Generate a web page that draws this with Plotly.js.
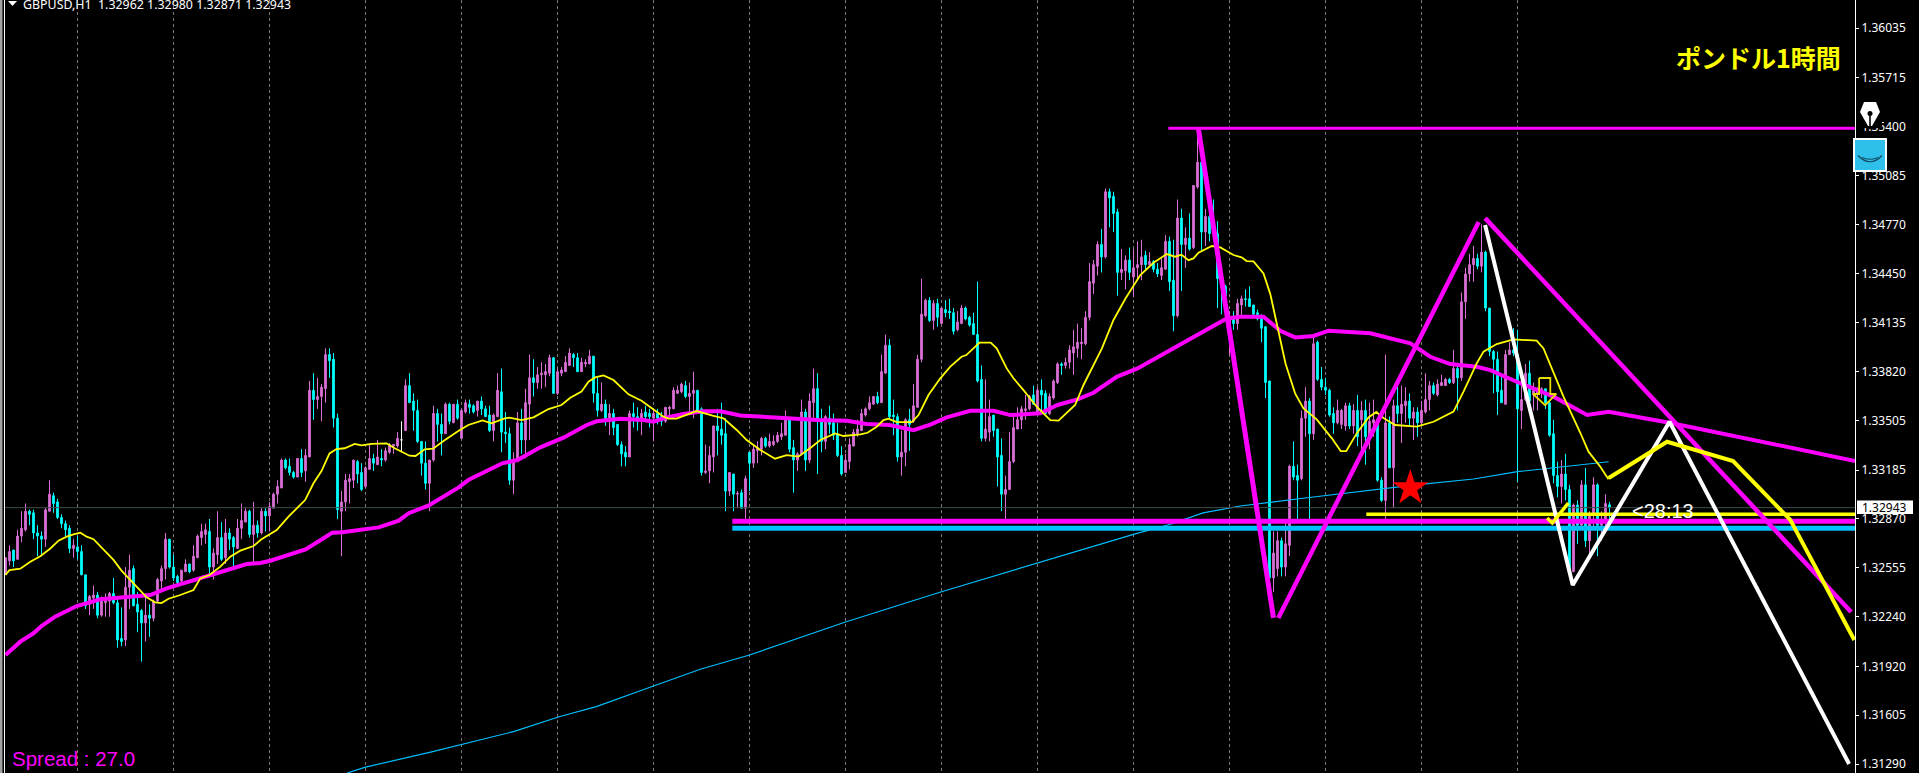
<!DOCTYPE html>
<html><head><meta charset="utf-8">
<script src="https://cdn.plot.ly/plotly-3.0.1.min.js"></script>
<style>html,body{margin:0;padding:0;background:#000;overflow:hidden}#c{width:1919px;height:773px}</style>
</head><body><div id="c"></div>
<script>
// All candle and line values are in pips above 1.30000 (296 = 1.32960).
const opens=[252,260,267,261,276,280,292,291,278,276,274,292,302,298,288,284,281,268,269,266,
251,232,236,238,225,233,234,239,233,210,209,243,255,232,228,220,225,223,234,247,
255,274,256,250,247,253,258,254,262,275,277,279,256,264,275,262,278,275,268,281,
285,292,277,283,278,292,289,294,303,307,325,321,317,314,326,318,327,370,364,366,
371,393,390,352,292,298,311,312,324,317,308,319,326,322,326,325,330,334,334,338,
344,373,363,357,337,323,310,325,355,348,342,361,349,361,339,356,361,360,357,363,
358,354,344,353,369,343,342,312,324,349,338,361,378,375,380,380,381,391,368,381,
382,386,393,391,382,387,387,392,368,357,361,350,355,348,335,330,327,355,353,350,
356,355,352,355,353,350,358,358,368,369,373,366,368,370,358,317,318,327,347,345,
342,305,316,303,304,294,330,323,331,332,339,334,335,337,340,341,351,333,325,329,
356,325,362,371,351,337,352,349,342,328,317,324,334,342,344,354,358,361,366,362,
381,399,354,353,327,330,351,350,359,390,418,428,415,426,413,422,421,420,409,413,
423,417,413,406,377,339,343,354,345,328,303,306,324,345,351,357,358,367,356,370,
368,355,365,375,387,386,388,394,397,400,400,417,439,450,464,456,498,495,485,446,
447,454,443,449,451,457,451,453,448,444,448,466,441,418,481,464,468,462,501,517,
472,482,477,471,443,437,405,416,413,425,429,429,425,420,417,411,376,249,255,273,
256,270,321,315,313,352,363,342,401,377,372,370,355,349,348,347,360,347,357,351,
357,340,349,351,312,299,349,320,360,355,360,363,352,356,349,356,364,373,367,373,
373,377,375,384,378,427,445,451,455,450,459,423,395,390,370,361,393,396,393,357,
364,381,367,368,368,371,362,342,315,308,316,306,253,296,283,309,273,290,309,283,287,296.2];
const highs=[262,270,267,280,292,297,293,293,283,279,294,312,304,300,290,286,283,274,276,270,
251,238,244,240,237,239,240,249,236,230,256,264,257,240,229,239,232,235,249,257,
278,274,264,251,254,261,258,270,277,284,284,287,268,292,285,287,281,276,287,297,
294,293,298,286,294,294,298,304,312,326,326,326,318,326,332,332,376,381,378,374,
397,397,394,355,305,316,316,325,325,323,321,335,329,338,332,333,336,335,343,350,
377,381,368,364,337,337,325,360,358,355,362,362,361,364,358,364,364,361,363,366,
360,360,355,381,384,356,346,330,356,358,371,393,390,385,388,387,393,391,384,385,
392,397,394,394,391,390,396,392,378,375,364,361,358,348,337,334,357,362,359,358,
360,358,358,358,356,359,360,372,373,375,376,375,382,370,359,335,334,347,358,362,
352,317,316,305,306,315,330,334,337,340,340,342,341,343,349,357,351,338,330,364,
358,368,384,381,358,354,360,355,349,334,329,339,345,351,358,359,366,366,369,393,
406,403,364,355,344,352,358,374,393,442,429,430,428,429,423,428,429,423,421,425,
424,418,420,440,386,377,364,354,345,339,315,343,355,359,360,367,367,373,372,377,
370,368,377,388,388,391,399,409,413,410,421,452,454,466,474,500,500,498,487,461,
457,462,461,466,467,460,459,454,452,455,470,469,467,493,487,475,484,502,538,522,
487,491,493,479,444,438,421,421,429,431,435,437,425,422,419,411,376,279,279,275,
286,322,337,322,357,372,365,405,402,385,378,371,359,364,358,362,362,361,367,363,
364,362,364,352,314,393,353,364,377,373,372,368,359,359,363,381,376,375,377,380,
378,378,396,387,433,449,458,463,458,477,460,423,396,395,379,396,401,410,409,384,
387,389,375,372,372,371,363,351,324,325,329,309,297,299,312,320,292,314,310,292,303,298];
const lows=[251,257,256,261,272,279,283,274,263,263,269,292,291,287,281,276,265,262,261,251,
229,225,229,223,224,224,224,232,204,205,205,229,231,214,195,208,211,221,233,241,
248,255,247,244,246,253,252,253,262,270,271,250,248,258,260,258,267,256,268,274,
285,275,258,275,277,279,279,294,297,307,319,315,313,314,314,311,327,351,358,350,
362,378,346,287,263,292,297,307,310,305,307,319,318,322,321,324,329,329,333,330,
344,362,344,336,315,306,292,324,337,328,342,348,349,351,339,355,355,355,353,354,
353,343,337,353,330,336,309,303,324,329,326,338,366,371,371,372,379,368,367,379,
382,386,385,382,382,385,387,362,353,356,347,341,341,334,321,321,327,346,344,341,
351,346,337,348,347,349,354,358,368,368,365,354,352,357,315,316,310,317,328,335,
292,302,292,294,294,285,305,320,323,328,333,333,334,336,338,341,330,304,318,328,
318,323,350,316,330,332,342,338,327,315,317,319,334,340,344,353,357,361,361,362,
381,351,341,324,315,321,331,349,359,388,417,414,409,411,413,417,416,406,408,413,
415,411,406,375,337,337,337,340,308,292,287,306,323,345,345,351,357,361,356,355,
354,354,364,374,380,384,384,380,391,390,399,415,432,444,446,455,475,472,431,441,
435,441,430,441,441,448,451,446,443,441,448,434,408,417,434,449,460,461,500,460,
463,466,467,423,419,417,393,409,409,417,424,424,418,415,401,365,245,240,250,250,
250,263,312,287,312,340,286,338,376,370,367,353,342,348,345,344,345,342,334,328,
322,332,340,311,298,287,320,294,349,336,349,347,338,340,347,355,357,367,366,373,
373,374,374,357,376,416,440,440,448,446,421,392,368,354,362,361,393,392,311,345,
363,357,357,357,365,358,340,310,301,297,299,253,253,271,281,269,262,282,263,273,282,287.1];
const closes=[262,266,260,276,281,292,290,278,276,274,293,303,297,288,284,280,268,270,266,251,
231,237,238,225,234,235,239,233,209,208,243,254,231,227,220,225,223,234,248,255,
274,256,249,246,254,258,253,263,276,279,280,256,265,275,261,278,274,269,281,286,
292,277,283,278,292,289,295,303,308,325,320,317,314,326,317,328,370,364,366,372,
393,389,352,293,298,312,313,325,316,306,320,326,323,327,325,331,335,335,339,338,
373,362,357,337,323,310,325,355,348,342,361,350,361,352,357,362,359,356,363,358,
353,344,354,370,343,342,312,325,349,338,362,378,375,380,381,382,391,368,382,383,
388,394,391,382,388,388,392,368,357,361,351,355,346,335,329,327,355,353,350,355,
353,353,355,352,350,359,359,370,370,374,366,368,370,357,317,318,328,347,344,341,
305,317,303,303.5,294,313,323,332,333,339,334,337,337,341,342,351,332,325,329,356,
325,363,371,351,337,353,348,341,328,316,325,335,343,345,355,358,362,366,362,382,
399,353,353,327,330,351,348,360,390,419,428,415,426,417,423,420,420,408,414,423,
416,412,406,376,339,345,353,344,327,303,306,324,346,351,358,358,366,361,370,367,
355,366,376,387,386,388,396,398,401,401,417,440,451,464,456,498,494,484,446,448,
454,446,449,451,456,451,453,448,445,449,466,440,418,481,464,468,461,502,517,472,
482,471,471,442,437,431,416,413,426,429,428.5,424,419,416,410,375,249,265,273,256,
271,321,314,312,352,363,342,400,377,372,370,354,349,357,357,360,347,357,340,357,
340,350,351,312,299,349,320,360,355,361,363,352,356,349,357,364,373,368,374,375,
377,375,384,378,427,445,451,455,450,459,423,395,390,369,362,393,396,394,358,364,
381,363,370,370,371,362,341,315,308,316,306,254,296,283,309,273,290,309,283,287,297,294.3];
const dojiBars=[99];

const yellowBars=[0,1,3.7,6.2,8.7,11.2,13.25,15.3,17.2,18.7,20.3,22,27,29,32,35.3,37.4,39,40.75,43.7,47,48.7,51,53.7,56.2,58.7,62,64,67.8,70.75,74.9,77,79,81,82.75,84.8,87.3,89,91.5,95.25,97.3,101,102.5,104.8,106.9,109.5,113.2,115.7,119.25,121.5,124.8,126,129,132,135.75,139,141.2,144,145.75,147.4,149.5,152,155.75,159,164.5,165.7,167.75,172.75,176.8,179.5,182.8,185.3,188.7,192.4,195.3,198.25,201.6,203.7,207.4,209.5,213.7,215.5,217.8,219.5,220.75,222.8,226.6,228.25,230.75,233.7,236.2,239,240.2,243.5,246.3,247.8,250.3,252,254.5,257.8,261.2,263.25,267.4,269.5,274.1,277,280,283.7,287,290.3,292.4,294,295.75,297,298.25,301.6,303.7,307,309,310.3,312,314.5,316.2,320,322.4,324.5,327.8,331.6,333.8,335.2,337.8,340.75,342.7,344.5,347.4,352.8,357,362,364.5,367.8,369.5,372.8,377,382.8,384.5,387,389.5,393.7,395.75,398.7,400.75];
const yellowVals=[251,254,255,259.5,263,268,273,275.6,277.3,278.2,275.6,274,260.6,253.7,245.5,236.5,233.3,232.8,235.6,238,241.2,248.7,250.9,256.3,262.7,266.6,269.6,273.9,279.9,288.5,299.2,310,317.9,329.3,332.1,332.6,335.4,334.5,335.4,335.8,332.6,327.8,327.6,331.9,332.3,337.3,343.7,347.6,350.6,348.7,351.9,352.3,350.8,352.5,357.9,360.5,365.2,369.1,375.5,378.3,379.6,376.6,367.4,363.3,353,351.7,351.7,356.6,353.6,351.9,344.4,337.9,331.5,325.9,328.2,327.2,333.6,337.9,342.2,340.5,341.6,342.6,346.5,350.8,351.7,349.5,349.5,354,366.9,377.7,385.2,391.6,392.7,400.7,400.7,397,384.1,377.7,370.1,359.4,350.8,350.4,360.5,373.4,397,415.3,429.2,444.3,452.2,457.8,456.1,457.4,453.9,455,458.7,463,462.1,457.2,455.7,453.3,453.1,445.3,432,387.3,368,358.3,351.2,339,330.8,330.8,342.2,352.5,356,352.1,347.6,346.5,349.7,356.2,369.1,387.3,394.9,399.8,402.8,402,397,380.9,365.9,342.6,330.4,320.7,312.6];
const magentaBars=[0,3.7,7,9,12.4,17.8,23.7,32,36.2,40.3,48.7,52.8,60.3,63.7,66.2,71,75,79.2,81.7,84.2,88.3,93.3,98.3,100.8,105.7,110,113.3,115.7,120,124.2,128,133.7,139.5,145.3,147.8,153.7,159.5,162,165.3,169.5,174.5,178.7,183.7,193.7,198,203,210.3,215.3,221,227,231.2,235.3,241.2,247,251.2,258.7,263,268,272,277.8,283,288,292,298,302,305.3,308.7,314.5,318.7,322.4,327,330.75,341.2,351.2,356.2,361.2,367.8,371.2,377.8,387,395.4,400.8,416,462.4];
const magentaVals=[199.3,207.9,213.3,218,224,230.9,235.2,236.9,238,242.3,249.2,252,258,258.6,260.1,264.4,267.4,274.1,278.2,278.4,279.9,281.6,285.9,290.7,295.6,302.5,307.4,312.1,317.5,322.9,325,333.2,339.4,347.6,350,351.7,350.8,349.7,352.5,354.7,356.4,356.4,353.8,352,351.4,350.8,350.4,348.2,347.6,344.3,347.8,352.5,356.8,356.8,354,355.1,360.5,364.1,368.4,378.7,384.1,391.2,397,405.6,411,416.3,417.4,417.4,408.4,404.1,405,408.4,406.7,400.2,391.6,386.9,385.2,383,375.5,365.9,354.1,356.2,349.1,324.4];
const blueBars=[85.4,90,106.8,116,127,138.4,147.7,158.7,173.7,186,210,234,258,282,291.2,299.4,308.7,318.7,325.4,352,367,378,400.8];
const blueVals=[123.2,127,137,142.7,149.9,159.5,166,176.3,190.1,199.3,220.6,240.1,258.8,277.1,283.6,290.9,295.4,298.8,300.7,308.9,312.8,317.5,323.9];

const zigDownBars=[298.2,317],  zigDownVals=[539.1,223.2];
const zigUpBars=[318.2,368.3],  zigUpVals=[223.2,478.5];
const zigFallBars=[369.9,461.4],zigFallVals=[481,227];
const whiteBars=[369.9,391.8,416,460.9], whiteVals=[476.5,244.4,349.7,129];
const yThickBars=[400.8,415.4,431.9,446.2,462.2], yThickVals=[313.4,336.8,324.4,286.4,209];
const checkBars=[385.4,386.7,390.7], checkVals=[287.6,284.4,297.3];
const arrowBars=[383.4,386.2,386.2,387.7,384.9,381.9,383.4,383.4];
const arrowVals=[377.9,377.9,367.6,367.6,360.4,367.6,367.6,377.9];
const starBar=[351.2], starVal=[307];

const topLine={start:290.7,val:538.9};
const pinkLevel={start:181.7,val:285.5};
const blueLevel={start:181.7,val:281};
const yellowLevel={start:340.2,val:290};
const lastPrice=1.32943;

const priceTicks=[1.36035,1.35715,1.35400,1.35085,1.34770,1.34450,1.34135,1.33820,1.33505,1.33185,1.32870,1.32555,1.32240,1.31920,1.31605,1.31290];
const gridBars=[18,42,66,90,114,138,162,186,210,234,258,282,306,330,354,378];

const P=v=>1.3+v/10000, PA=a=>a.map(P);
const XR=[-0.375,462.375], W=1851, H=773;
const px=x=>(x-4)/W, py=y=>1-y/H;
const bars=opens.map((_,i)=>i);
const mainIdx=bars.filter(i=>!dojiBars.includes(i));
const pick=(a,idx)=>idx.map(i=>a[i]);

function candle(idx,upC,downC){
  return {type:'candlestick',x:idx,open:PA(pick(opens,idx)),high:PA(pick(highs,idx)),low:PA(pick(lows,idx)),close:PA(pick(closes,idx)),
    whiskerwidth:0,hoverinfo:'skip',showlegend:false,
    increasing:{line:{color:upC,width:1},fillcolor:upC},
    decreasing:{line:{color:downC,width:1},fillcolor:downC}};
}
function line(x,y,color,width){
  return {type:'scatter',mode:'lines',x:x,y:PA(y),line:{color:color,width:width,shape:'linear'},hoverinfo:'skip',showlegend:false};
}
const data=[
  line(blueBars,blueVals,'#00BFFF',1.2),
  line([XR[0],XR[1]],[(lastPrice-1.3)*10000,(lastPrice-1.3)*10000],'#3F4F4B',1),
  candle(mainIdx,'#DA70D6','#00FFFF'),
  candle(dojiBars,'#FFFFFF','#FFFFFF'),
  line(magentaBars,magentaVals,'#FF00FF',4),
  line(yellowBars,yellowVals,'#FFFF00',1.8),
  line([topLine.start,XR[1]],[topLine.val,topLine.val],'#FF00FF',3),
  line([pinkLevel.start,XR[1]],[pinkLevel.val,pinkLevel.val],'#FF00FF',5),
  line([blueLevel.start,XR[1]],[blueLevel.val,blueLevel.val],'#00BFFF',5),
  line([yellowLevel.start,XR[1]],[yellowLevel.val,yellowLevel.val],'#FFFF00',3.5),
  line(zigDownBars,zigDownVals,'#FF00FF',5),
  line(zigUpBars,zigUpVals,'#FF00FF',4.5),
  line(zigFallBars,zigFallVals,'#FF00FF',4.5),
  line(whiteBars,whiteVals,'#FFFFFF',4),
  line(yThickBars,yThickVals,'#FFFF00',4),
  line(checkBars,checkVals,'#FFFF00',3.5),
  line(arrowBars,arrowVals,'#E8DC00',1.8),
  {type:'scatter',mode:'markers',x:starBar,y:PA(starVal),marker:{symbol:'star',size:27,color:'#FF0000',line:{width:0}},hoverinfo:'skip',showlegend:false}
];

function pathPx(pts,close){
  return pts.map((p,i)=>(i?'L':'M')+px(p[0])+','+py(p[1])).join(' ')+(close?' Z':'');
}
const shapes=[
  {type:'rect',xref:'paper',yref:'paper',x0:px(0),x1:px(2.5),y0:0,y1:1,fillcolor:'#A0A0A0',line:{width:0},layer:'above'},
  {type:'rect',xref:'paper',yref:'paper',x0:px(4),x1:px(5),y0:0,y1:1,fillcolor:'#FFFFFF',line:{width:0},layer:'above'},
  {type:'path',xref:'paper',yref:'paper',path:pathPx([[8,1],[17,1],[12.5,6]],true),fillcolor:'#FFFFFF',line:{width:0},layer:'above'},
  // current price box
  {type:'rect',xref:'paper',yref:'paper',x0:px(1857),x1:px(1913),y0:py(514),y1:py(500.5),fillcolor:'#FFFFFF',line:{width:0},layer:'above'},
  // pen icon
  {type:'rect',xref:'paper',yref:'paper',x0:px(1856),x1:px(1882),y0:py(128),y1:py(100),fillcolor:'#000000',line:{width:0},layer:'above'},
  {type:'path',xref:'paper',yref:'paper',path:pathPx([[1864,102],[1876,102],[1880,112],[1872,126],[1870.8,126],[1870.8,116],[1869.2,116],[1869.2,126],[1868,126],[1860,112]],true),fillcolor:'#FFFFFF',line:{width:0},layer:'above'},
  {type:'circle',xref:'paper',yref:'paper',x0:px(1867.5),x1:px(1872.5),y0:py(116),y1:py(111),fillcolor:'#000000',line:{width:0},layer:'above'},
  // smile box
  {type:'rect',xref:'paper',yref:'paper',x0:px(1854),x1:px(1886),y0:py(171),y1:py(139),fillcolor:'#2EBFEA',line:{color:'#FFFFFF',width:2},layer:'above'},
  {type:'path',xref:'paper',yref:'paper',path:'M'+px(1858)+','+py(155.5)+' Q'+px(1870)+','+py(168)+' '+px(1882)+','+py(155.5),line:{color:'#14485C',width:1.2},layer:'above'},
  {type:'path',xref:'paper',yref:'paper',path:'M'+px(1862)+','+py(157.5)+' Q'+px(1870)+','+py(161)+' '+px(1878)+','+py(157.5),line:{color:'#14485C',width:1},layer:'above'}
];
function note(text,x,y,font,anchor){
  return {xref:'paper',yref:'paper',x:px(x),y:py(y),text:text,showarrow:false,xanchor:anchor||'left',yanchor:'middle',font:font,borderpad:0,borderwidth:0};
}
const annotations=[
  note('GBPUSD,H1&nbsp;&nbsp;1.32962 1.32980 1.32871 1.32943',23,4.5,{family:'Noto Sans',size:12.4,color:'#FFFFFF'}),
  note('<b>ポンドル1時間</b>',1841,57,{family:'Noto Sans CJK JP',size:25,color:'#FFFF00',weight:400}),
  note('Spread : 27.0',12,758,{family:'Liberation Sans',size:20.5,color:'#FF00FF'}),
  note('&lt;28:13',1632,510.5,{family:'Liberation Sans',size:20,color:'#FFFFFF'}),
  note(lastPrice.toFixed(5),1862,507.5,{family:'Noto Sans',size:12,color:'#000000'})
];
annotations[1].xanchor='right';
const layout={
  width:1919,height:773,autosize:false,paper_bgcolor:'#000',plot_bgcolor:'#000',
  margin:{l:4,r:64,t:0,b:0,pad:0},showlegend:false,boxgap:0.4,
  xaxis:{range:XR,rangeslider:{visible:false},tickmode:'array',tickvals:gridBars,showticklabels:false,ticks:'',
    showgrid:true,gridcolor:'#7A7A7A',griddash:'3px,3px',gridwidth:1,zeroline:false,showline:false},
  yaxis:{range:[1.312323,1.362162],side:'right',tickmode:'array',tickvals:priceTicks,ticktext:priceTicks.map(v=>v.toFixed(5)),
    showgrid:false,zeroline:false,showline:true,linecolor:'#FFFFFF',linewidth:1,ticks:'outside',ticklen:3,tickcolor:'#FFFFFF',tickwidth:1,
    tickfont:{family:'Noto Sans',size:12,color:'#FFFFFF'}},
  shapes:shapes,annotations:annotations
};
Plotly.newPlot('c',data,layout,{staticPlot:true,displayModeBar:false});
</script></body></html>
